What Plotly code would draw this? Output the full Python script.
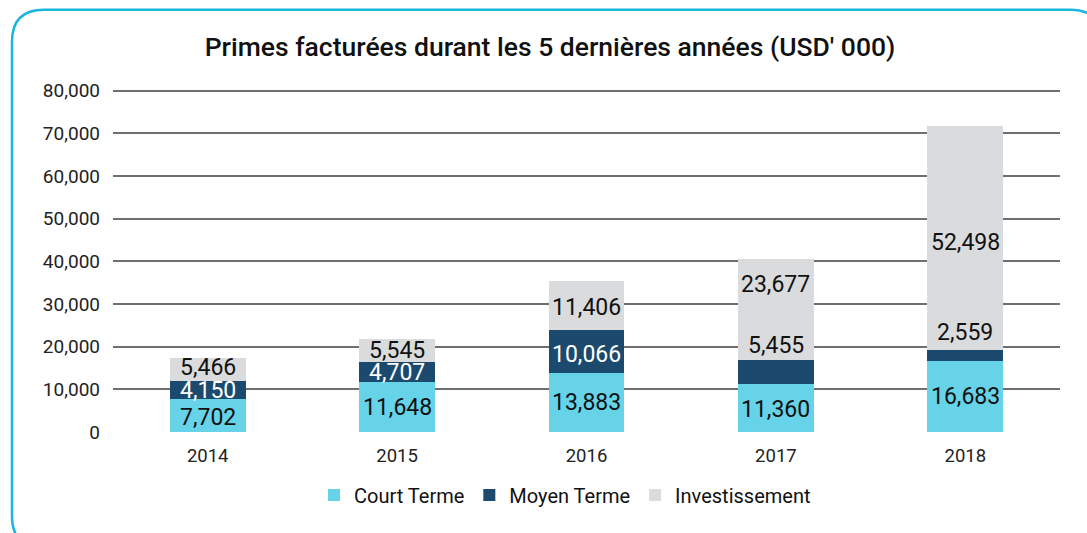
import plotly.graph_objects as go

years = ["2014", "2015", "2016", "2017", "2018"]
court_terme = [7702, 11648, 13883, 11360, 16683]
moyen_terme = [4150, 4707, 10066, 5455, 2559]
investissement = [5466, 5545, 11406, 23677, 52498]

series_names = ["Court Terme", "Moyen Terme", "Investissement"]
series_values = [court_terme, moyen_terme, investissement]
series_colors = ["#66d3e8", "#1c4a6e", "#dadbdd"]

y_ticks = [0, 10000, 20000, 30000, 40000, 50000, 60000, 70000, 80000]

label_colors = [
    ["#111", "#111", "#111", "#111", "#111"],
    ["#fff", "#fff", "#fff", "#111", "#111"],
    ["#111", "#111", "#111", "#111", "#111"],
]
label_mode = [
    ["c"] * 5,
    ["c", "c", "c", "top", "top"],
    ["c", "c", "c", "c", "c"],
]
label_shift = [
    [-2, 0, 0, -2, 0],
    [0, 0, -3, 15, 17],
    [2, 0, -2, 25, -5],
]

W, H = 1087, 533
YMAX = 80400
L, R, B = 113, 27, 101
ph = 341 * YMAX / 80000
T = H - B - ph
pw = W - L - R

fig = go.Figure()
for name, vals, col in zip(series_names, series_values, series_colors):
    fig.add_trace(go.Bar(x=years, y=vals, name=name, marker=dict(color=col, line=dict(width=0)),
                         hoverinfo="y"))

annotations = []
base = [0] * len(years)
for si, vals in enumerate(series_values):
    for i, v in enumerate(vals):
        yv = base[i] + v / 2 if label_mode[si][i] == "c" else base[i] + v
        annotations.append(dict(
            x=i, y=yv, xref="x", yref="y", text=f"{v:,}", showarrow=False,
            yanchor="middle", yshift=label_shift[si][i],
            font=dict(family="Roboto", size=23, color=label_colors[si][i]),
        ))
        base[i] += v


def px2paper(px, py):
    return (px - L) / pw, (H - B - py) / ph


def P(px, py):
    a, b = px2paper(px, py)
    return f"{a:.5f},{b:.5f}"


x0, y0, x1, y1, r = 12, 10, 1102, 548, 32
path = (f"M {P(x0 + r, y0)} L {P(x1 - r, y0)} Q {P(x1, y0)} {P(x1, y0 + r)} "
        f"L {P(x1, y1 - r)} Q {P(x1, y1)} {P(x1 - r, y1)} L {P(x0 + r, y1)} "
        f"Q {P(x0, y1)} {P(x0, y1 - r)} L {P(x0, y0 + r)} Q {P(x0, y0)} {P(x0 + r, y0)} Z")

fig.update_layout(
    width=W, height=H,
    margin=dict(l=L, r=R, t=T, b=B, autoexpand=False),
    paper_bgcolor="white", plot_bgcolor="white",
    barmode="stack", bargap=0.6,
    title=dict(text="Primes facturées durant les 5 dernières années (USD' 000)",
               x=550 / W, xanchor="center", y=1 - 47 / H, yanchor="middle",
               font=dict(family="Roboto", size=26.5, color="#111", weight=500)),
    font=dict(family="Roboto", color="#222"),
    xaxis=dict(type="category", range=[-0.5, len(years) - 0.5], showgrid=False, showline=False,
               zeroline=False, ticks="",
               tickfont=dict(family="Roboto", size=18.5, color="#222"), ticklabelstandoff=10),
    yaxis=dict(range=[0, YMAX], tickvals=y_ticks, tickformat=",d", showgrid=True,
               gridcolor="#6f6f6f", gridwidth=1.5, zeroline=False, showline=False,
               tickfont=dict(family="Roboto", size=19, color="#222"), ticklabelstandoff=12),
    legend=dict(orientation="h", x=px2paper(565, 0)[0], xanchor="center",
                y=px2paper(0, 495)[1], yanchor="middle",
                font=dict(family="Roboto", size=20, color="#111"),
                traceorder="normal", itemwidth=30),
    annotations=annotations,
    shapes=[dict(type="path", path=path, xref="paper", yref="paper",
                 line=dict(color="#1ab6dc", width=2.5), layer="above")],
    showlegend=True,
)

fig.write_html("out.html", config={"displayModeBar": False},
               post_script="document.body.style.margin='0';document.body.style.overflow='hidden';")
